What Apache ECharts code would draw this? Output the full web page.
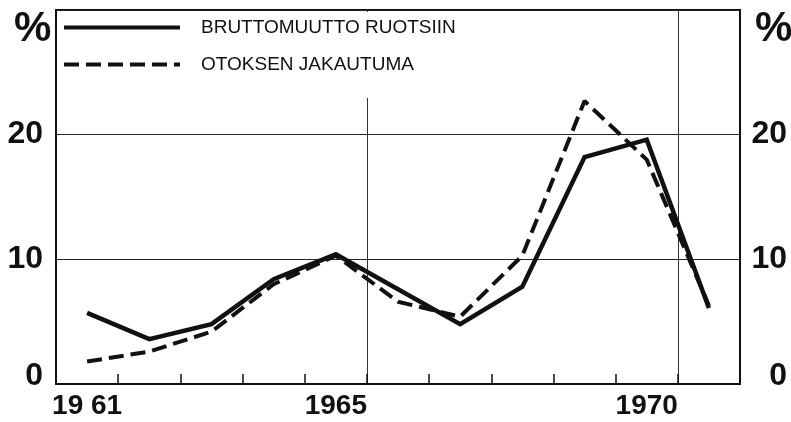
<!DOCTYPE html>
<html>
<head>
<meta charset="utf-8">
<script src="https://cdn.jsdelivr.net/npm/echarts@6/dist/echarts.min.js"></script>
<style>
html,body{margin:0;padding:0;background:#fff;}
#c{width:791px;height:422px;}
</style>
</head>
<body>
<div id="c"></div>
<script>
const years = ['1961','1962','1963','1964','1965','1966','1967','1968','1969','1970','1971'];
const yearLabels = ['19 61','','','','1965','','','','','1970',''];
const brutto = [5.7, 3.6, 4.8, 8.4, 10.4, 7.6, 4.8, 7.8, 18.2, 19.6, 6.1];
const otos = [1.8, 2.6, 4.2, 8.0, 10.3, 6.6, 5.4, 10.3, 22.7, 18.0, 6.3];
const yTicks = [0, 10, 20];
const seriesNames = ['BRUTTOMUUTTO RUOTSIIN', 'OTOKSEN JAKAUTUMA'];

const numFont = "'Liberation Sans Narrow', 'Liberation Sans', Arial, sans-serif";
const chart = echarts.init(document.getElementById('c'), null, {renderer: 'canvas'});

function yLabelFmt(v) {
  if (yTicks.indexOf(v) < 0) return '';
  if (v === 0) return '{z|0}';
  return '{n|' + v + '}';
}
const yRich = {
  n: {fontFamily: numFont, fontWeight: 'bold', fontSize: 32, color: '#111'},
  z: {fontFamily: numFont, fontWeight: 'bold', fontSize: 32, color: '#111', padding: [0, 0, 16, 0]}
};

chart.setOption({
  animation: false,
  backgroundColor: '#fff',
  color: ['#111', '#111'],
  grid: {left: 56, right: 51, top: 10, bottom: 38, show: true, borderColor: '#111', borderWidth: 2, backgroundColor: 'transparent'},
  legend: {
    orient: 'vertical',
    left: 58, top: 12,
    padding: [6, 20, 24, 4],
    backgroundColor: '#fff',
    itemWidth: 116, itemHeight: 14,
    itemGap: 18,
    data: seriesNames,
    textStyle: {fontFamily: "'Liberation Sans', Arial, sans-serif", fontSize: 19, color: '#111', padding: [0, 0, 0, 16]},
    itemStyle: {opacity: 0},
    lineStyle: {width: 4}
  },
  xAxis: {
    type: 'category',
    data: years,
    boundaryGap: true,
    axisLine: {show: true, lineStyle: {color: '#111', width: 2}},
    axisTick: {show: true, inside: true, length: 10, interval: 0, lineStyle: {color: '#111', width: 1.5}},
    axisLabel: {
      interval: 0, margin: 8,
      formatter: function (v, i) { return yearLabels[i]; },
      fontFamily: numFont, fontWeight: 'bold', fontSize: 28, color: '#111'
    },
    splitLine: {show: true, interval: function (i) { return i === 5 || i === 10; }, lineStyle: {color: '#333', width: 1}}
  },
  yAxis: [
    {
      type: 'value', min: 0, max: 30, interval: 10, position: 'left',
      axisLine: {show: true, lineStyle: {color: '#111', width: 2}},
      axisTick: {show: false},
      axisLabel: {margin: 13, formatter: yLabelFmt, rich: yRich},
      splitLine: {show: true, lineStyle: {color: '#222', width: 1}}
    },
    {
      type: 'value', min: 0, max: 30, interval: 10, position: 'right',
      axisLine: {show: true, lineStyle: {color: '#111', width: 2}},
      axisTick: {show: false},
      axisLabel: {margin: 47, align: 'right', formatter: yLabelFmt, rich: yRich},
      splitLine: {show: false}
    }
  ],
  graphic: [
    {type: 'text', left: 14, top: 8, style: {text: '%', fontFamily: numFont, fontWeight: 'bold', fontSize: 42, fill: '#111'}},
    {type: 'text', left: 755, top: 8, style: {text: '%', fontFamily: numFont, fontWeight: 'bold', fontSize: 42, fill: '#111'}}
  ],
  series: [
    {
      name: seriesNames[0], type: 'line', data: brutto, symbol: 'none',
      itemStyle: {color: '#111'},
      lineStyle: {color: '#111', width: 4.5, type: 'solid', join: 'miter'},
      z: 3
    },
    {
      name: seriesNames[1], type: 'line', data: otos, symbol: 'none',
      itemStyle: {color: '#111'},
      lineStyle: {color: '#111', width: 4, type: [15, 7]},
      z: 4
    }
  ]
});
</script>
</body>
</html>
